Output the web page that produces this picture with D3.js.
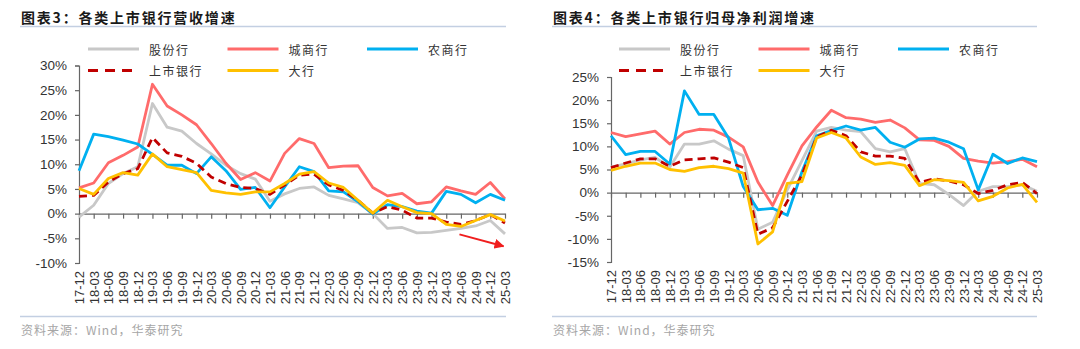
<!DOCTYPE html>
<html><head><meta charset="utf-8">
<script src="https://cdn.jsdelivr.net/npm/d3@7"></script>
<style>
html,body{margin:0;padding:0;background:#fff;}
svg{display:block;}
</style></head>
<body>
<svg id="c" width="1080" height="349"></svg>
<script>
const categories = ["17-12","18-03","18-06","18-09","18-12","19-03","19-06","19-09","19-12","20-03","20-06","20-09","20-12","21-03","21-06","21-09","21-12","22-03","22-06","22-09","22-12","23-03","23-06","23-09","23-12","24-03","24-06","24-09","24-12","25-03"];
const seriesNames = ["股份行","城商行","农商行","上市银行","大行"];

// Chart 3: revenue growth (%)
const rev_gufen   = [-0.7,1.7,6.1,8.1,9.5,22.3,17.5,16.7,14.2,12.1,9.8,8.1,7.0,2.5,4.0,5.1,5.4,3.7,3.0,2.2,0.0,-3.0,-2.8,-3.9,-3.8,-3.4,-3.0,-2.5,-1.4,-4.1];
const rev_cheng   = [5.2,6.2,10.3,11.8,13.5,26.2,21.8,20.0,18.0,14.2,10.2,6.9,8.3,6.6,12.2,15.2,14.2,9.3,9.6,9.7,5.3,3.6,4.1,2.0,2.4,5.4,4.6,3.9,6.3,3.0];
const rev_nong    = [8.7,16.1,15.6,14.9,14.1,12.0,9.8,9.8,8.1,11.5,8.7,4.9,5.3,1.2,5.4,9.5,8.5,4.6,4.4,2.4,-0.1,1.8,1.4,0.5,0.1,4.5,3.9,2.2,3.9,2.7];
const rev_listed  = [3.5,3.7,6.4,8.1,9.1,15.4,12.3,11.6,10.2,7.4,6.1,5.3,5.1,3.9,5.8,7.8,8.0,5.8,4.7,2.7,0.1,1.4,0.7,-0.9,-0.9,-1.7,-2.2,-1.4,-0.2,-1.9];
const rev_big     = [5.1,3.9,7.1,8.3,7.8,12.1,9.5,8.9,8.3,4.7,4.2,3.9,4.4,4.4,6.1,8.0,8.5,6.2,5.3,2.7,0.1,2.7,1.4,0.2,0.0,-2.2,-2.6,-1.4,-0.2,-1.5];

// Chart 4: net profit growth (%)
const np_gufen    = [5.5,6.2,7.1,7.6,5.5,10.5,10.5,11.2,9.4,8.0,-7.9,-6.4,0.6,6.9,13.3,14.1,13.5,13.2,9.5,8.8,9.5,2.0,1.7,-0.4,-2.8,0.3,1.3,1.3,1.7,0.3];
const np_cheng    = [13.0,12.1,12.7,13.3,10.5,13.0,13.7,13.5,12.0,9.9,2.3,-2.8,3.8,10.1,14.2,17.8,16.2,15.9,15.2,15.7,14.0,11.4,11.3,10.0,7.4,6.8,6.4,6.7,7.2,5.6];
const np_nong     = [12.3,8.2,8.9,8.9,6.2,22.0,16.9,16.9,11.8,1.3,-3.7,-3.4,-4.9,4.5,12.3,13.4,14.4,13.5,14.1,10.9,9.8,11.6,11.8,10.9,9.5,0.6,8.3,6.3,7.5,6.7];
const np_listed   = [5.4,6.4,7.3,7.3,5.7,7.1,7.3,7.5,6.6,5.4,-9.0,-7.6,-1.9,3.8,12.0,13.5,12.3,8.8,7.9,7.9,7.4,2.2,3.0,2.5,1.7,-0.2,0.5,1.7,2.2,-0.2];
const np_big      = [4.8,5.7,6.4,6.4,5.0,4.6,5.4,5.7,5.2,4.2,-11.1,-8.5,2.0,2.4,11.8,13.0,11.8,7.7,6.1,6.5,5.9,1.5,2.8,2.6,2.2,-1.8,-0.8,1.0,1.8,-2.1];

const yTicksLeft  = [-10,-5,0,5,10,15,20,25,30];
const yTicksRight = [-15,-10,-5,0,5,10,15,20,25];

const colors = ["#C8C8C8","#FF6B6B","#00B0F0","#C00000","#FFC000"];
const dashes = [null,null,null,"8,5",null];

const svg = d3.select("#c");
const CJK = "'Noto Sans CJK SC','Noto Sans',sans-serif";
const LAT = "'Liberation Sans',Arial,sans-serif";

function drawChart(opt){
  const g = svg.append("g");
  // title
  g.append("text").attr("x",opt.left).attr("y",17).attr("dominant-baseline","central")
    .attr("font-family",CJK).attr("font-weight","bold").attr("font-size",14)
    .attr("letter-spacing","1.8px").attr("fill","#1a1a1a").text(opt.title);
  g.append("line").attr("x1",opt.left-1).attr("x2",opt.right).attr("y1",26.5).attr("y2",26.5)
    .attr("stroke","#C3CFE2").attr("stroke-width",1.5);
  g.append("line").attr("x1",opt.left-1).attr("x2",opt.right).attr("y1",316.5).attr("y2",316.5)
    .attr("stroke","#C3CFE2").attr("stroke-width",1.5);
  g.append("text").attr("x",opt.left).attr("y",329).attr("dominant-baseline","central")
    .attr("font-family",CJK).attr("font-size",12).attr("letter-spacing","1px")
    .attr("fill","#A6A6A6").text("资料来源：Wind，华泰研究");

  const x = d3.scaleLinear().domain([0,categories.length-1]).range([opt.x0,opt.x1]);
  const y = d3.scaleLinear().domain(opt.yDomain).range([opt.yBottom,opt.yTop]);

  // y axis
  const ya = g.append("g").attr("transform",`translate(${opt.x0},0)`)
    .call(d3.axisLeft(y).tickValues(opt.yTicks).tickFormat(d=>d+"%").tickSize(4).tickPadding(8));
  ya.selectAll("path,line").attr("stroke","#666").attr("stroke-width",1.2);
  ya.selectAll("text").attr("font-family",LAT).attr("font-size",13.5).attr("fill","#333");

  // zero axis
  const xa = g.append("g").attr("transform",`translate(0,${y(0)})`)
    .call(d3.axisBottom(x).tickValues(d3.range(categories.length)).tickFormat("").tickSize(5).tickSizeOuter(0));
  xa.selectAll("path,line").attr("stroke","#666").attr("stroke-width",1.2);

  // category labels
  const la = g.append("g").attr("transform",`translate(0,${opt.yBottom})`)
    .call(d3.axisBottom(x).tickValues(d3.range(categories.length)).tickFormat(i=>categories[i]).tickSize(0).tickPadding(0));
  la.select(".domain").remove();
  la.selectAll("text").attr("font-family",LAT).attr("font-size",13).attr("fill","#333")
    .attr("text-anchor","end").attr("dy",null).attr("y",null)
    .attr("dominant-baseline","central")
    .attr("transform","translate(0,8) rotate(-90)");

  // lines
  const line = d3.line().x((d,i)=>x(i)).y(d=>y(d));
  opt.data.forEach((arr,k)=>{
    g.append("path").datum(arr).attr("d",line).attr("fill","none")
      .attr("stroke",colors[k]).attr("stroke-width",2.8)
      .attr("stroke-linejoin","round")
      .attr("stroke-dasharray",dashes[k]);
  });

  // legend
  const lg = g.append("g");
  seriesNames.forEach((n,k)=>{
    const col = k<3 ? k : k-3;
    const row = k<3 ? 0 : 1;
    const lx = opt.legX + col*opt.legColW;
    const ly = opt.legY + row*21.5;
    lg.append("line").attr("x1",lx).attr("x2",lx+51).attr("y1",ly).attr("y2",ly)
      .attr("stroke",colors[k]).attr("stroke-width",3).attr("stroke-dasharray",dashes[k]?"10,7":null);
    lg.append("text").attr("x",lx+61).attr("y",ly).attr("dominant-baseline","central")
      .attr("font-family",CJK).attr("font-size",12).attr("letter-spacing","1.5px")
      .attr("fill","#333").text(n);
  });
  return {x,y,g};
}

const left = drawChart({
  title:"图表3：各类上市银行营收增速", left:21, right:506,
  x0:79, x1:505, yTop:65.5, yBottom:263, yDomain:[-10,30], yTicks:yTicksLeft,
  data:[rev_gufen,rev_cheng,rev_nong,rev_listed,rev_big],
  legX:88, legY:49, legColW:139.5
});
const right = drawChart({
  title:"图表4：各类上市银行归母净利润增速", left:553, right:1037,
  x0:611, x1:1037, yTop:77, yBottom:262, yDomain:[-15,25], yTicks:yTicksRight,
  data:[np_gufen,np_cheng,np_nong,np_listed,np_big],
  legX:619, legY:49, legColW:139.5
});

// red arrow annotation (left chart), positioned in data space
const arrowFrom = [25.9,-4.2], arrowTo = [28.9,-6.6];
svg.append("defs").append("marker").attr("id","ah").attr("viewBox","0 0 10 10")
  .attr("refX",9).attr("refY",5).attr("markerWidth",5).attr("markerHeight",5)
  .attr("orient","auto").attr("markerUnits","strokeWidth")
  .append("path").attr("d","M0,0 L10,5 L0,10 Z").attr("fill","#F01E1E");
svg.append("line")
  .attr("x1",left.x(arrowFrom[0])).attr("y1",left.y(arrowFrom[1]))
  .attr("x2",left.x(arrowTo[0])).attr("y2",left.y(arrowTo[1]))
  .attr("stroke","#F01E1E").attr("stroke-width",2).attr("marker-end","url(#ah)");
</script>
</body></html>
